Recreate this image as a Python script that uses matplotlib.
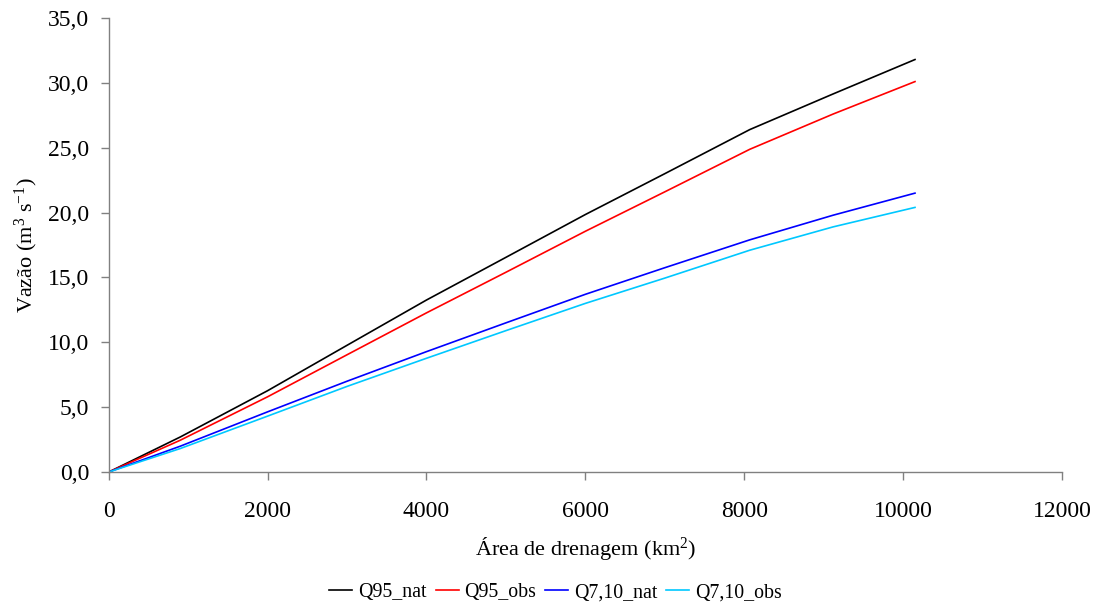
import numpy as np
import matplotlib
matplotlib.use("Agg")
import matplotlib.pyplot as plt
from matplotlib.ticker import FuncFormatter

# drainage area (km2) and flows (m3/s)
area = [0, 900, 2000, 3000, 4000, 5000, 6000, 7000, 8070, 9120, 10150]
q95_nat = [0.0, 2.7, 6.27, 9.77, 13.26, 16.55, 19.85, 23.0, 26.4, 29.15, 31.8]
q95_obs = [0.0, 2.45, 5.8, 9.04, 12.27, 15.4, 18.56, 21.6, 24.88, 27.6, 30.1]
q710_nat = [0.0, 1.99, 4.64, 7.0, 9.28, 11.5, 13.7, 15.75, 17.9, 19.8, 21.5]
q710_obs = [0.0, 1.81, 4.31, 6.6, 8.77, 10.9, 13.0, 14.95, 17.1, 18.9, 20.4]

series = [
    ("Q95_nat", q95_nat, "black"),
    ("Q95_obs", q95_obs, "#ff0000"),
    ("Q7,10_nat", q710_nat, "#0000ff"),
    ("Q7,10_obs", q710_obs, "#00c8ff"),
]

plt.rcParams["font.family"] = ["Liberation Serif", "DejaVu Serif"]
plt.rcParams["mathtext.fontset"] = "custom"
plt.rcParams["mathtext.rm"] = "Liberation Serif"
plt.rcParams["mathtext.it"] = "Liberation Serif:italic"
plt.rcParams["mathtext.default"] = "rm"

fig = plt.figure(figsize=(10.94, 6.05), dpi=100)
ax = fig.add_axes([0.0994, 0.2198, 0.8713, 0.7504])

for name, vals, col in series:
    ax.plot(area, vals, color=col, lw=1.2, label=name)

ax.set_xlim(0, 12000)
ax.set_ylim(0, 35)
ax.set_xticks(np.arange(0, 12001, 2000))
ax.set_yticks(np.arange(0, 35.1, 5))
ax.yaxis.set_major_formatter(FuncFormatter(lambda v, p: f"{v:.1f}".replace(".", ",")))

for s in ["top", "right"]:
    ax.spines[s].set_visible(False)
for s in ["left", "bottom"]:
    ax.spines[s].set_color("#808080")
    ax.spines[s].set_linewidth(1.0)
ax.tick_params(axis="both", labelsize=17, length=6, color="#808080", width=1.0)
ax.tick_params(axis="x", pad=15)
ax.tick_params(axis="y", pad=8)

ax.set_xlabel("Área de drenagem (km$^2$)", fontsize=16, labelpad=9)
ax.set_ylabel("Vazão (m$^3$ s$^{-1}$)", fontsize=16, labelpad=6)

fig.legend(loc="lower center", bbox_to_anchor=(0.508, -0.025), ncol=4, frameon=False,
           fontsize=14.3, handlelength=1.15, handletextpad=0.3, columnspacing=0.45)

fig.savefig("out.png", dpi=100)
